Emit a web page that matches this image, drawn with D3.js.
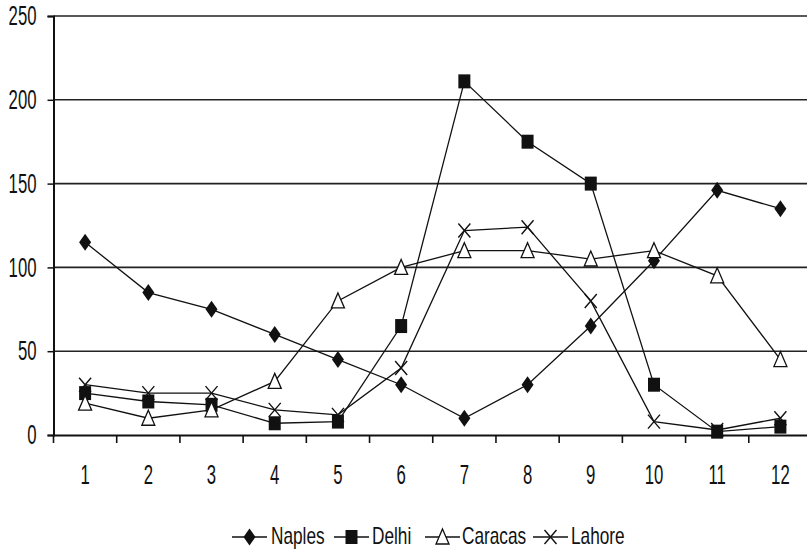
<!DOCTYPE html>
<html>
<head>
<meta charset="utf-8">
<script src="https://cdn.jsdelivr.net/npm/d3@7"></script>
<style>
  html, body { margin: 0; padding: 0; background: #fff; }
  svg { display: block; }
  text { font-family: "Liberation Sans Narrow", "Arial Narrow", "Liberation Sans", Arial, sans-serif; fill: #111; }
</style>
</head>
<body>
<svg id="chart" width="807" height="551"></svg>
<script>
const months = [1, 2, 3, 4, 5, 6, 7, 8, 9, 10, 11, 12];
const naples  = [115, 85, 75, 60, 45, 30, 10, 30, 65, 104, 146, 135];
const delhi   = [25, 20, 18, 7, 8, 65, 211, 175, 150, 30, 2, 5];
const caracas = [19, 10, 15, 32, 80, 100, 110, 110, 105, 110, 95, 45];
const lahore  = [30, 25, 25, 15, 12, 40, 122, 124, 80, 8, 3, 10];
const yTicks  = [0, 50, 100, 150, 200, 250];
const seriesNames = ["Naples", "Delhi", "Caracas", "Lahore"];
const seriesValues = [naples, delhi, caracas, lahore];
const seriesMarkers = ["diamond", "square", "triangle", "cross"];

const svg = d3.select("#chart");
const plotLeft = 53.5, plotRight = 812, plotTop = 16, plotBottom = 435;

const x = d3.scaleBand().domain(months).range([plotLeft, plotRight]).padding(0);
const y = d3.scaleLinear().domain([0, 250]).range([plotBottom, plotTop]);
const cx = d => x(d) + x.bandwidth() / 2;

// Emulate a narrow typeface by horizontally condensing text around its anchor
function narrow(sel, factor) {
  sel.each(function () {
    const t = d3.select(this);
    const tx = +t.attr("x") || 0, ty = +t.attr("y") || 0;
    t.attr("x", 0).attr("y", 0)
      .attr("transform", `translate(${tx},${ty}) scale(${factor},1)`);
  });
}

function markerPath(type) {
  switch (type) {
    case "diamond": return "M0,-8.5L6,0L0,8.5L-6,0Z";
    case "square": return "M-6,-7H6V7H-6Z";
    case "triangle": return "M0,-8L6.5,7H-6.5Z";
    case "cross": return "M-6,-7L6,7M6,-7L-6,7";
  }
}
function drawMarker(g, type, px, py) {
  const p = g.append("path").attr("d", markerPath(type))
    .attr("transform", `translate(${px},${py})`);
  if (type === "triangle") p.attr("fill", "#fff").attr("stroke", "#111").attr("stroke-width", 1.3);
  else if (type === "cross") p.attr("fill", "none").attr("stroke", "#111").attr("stroke-width", 1.4);
  else p.attr("fill", "#111").attr("stroke", "none");
}

// Gridlines
svg.append("g").selectAll("line").data(yTicks.filter(t => t > 0)).join("line")
  .attr("x1", plotLeft).attr("x2", 807)
  .attr("y1", d => y(d)).attr("y2", d => y(d))
  .attr("stroke", "#222").attr("stroke-width", 1.6);

// Y axis
const yAxis = d3.axisLeft(y).tickValues(yTicks).tickSize(6).tickPadding(11);
const gy = svg.append("g").attr("transform", `translate(${plotLeft},0)`).call(yAxis);
gy.select(".domain").attr("stroke", "#111").attr("stroke-width", 2);
gy.selectAll(".tick line").attr("stroke", "#111").attr("stroke-width", 1.5);
gy.selectAll(".tick text").attr("font-size", 27).attr("fill", "#111")
  .attr("font-family", null).call(narrow, 0.62);

// X axis
const xAxis = d3.axisBottom(x).tickSize(0).tickPadding(30);
const gx = svg.append("g").attr("transform", `translate(0,${plotBottom})`).call(xAxis);
gx.select(".domain").attr("stroke", "#111").attr("stroke-width", 2);
gx.selectAll(".tick text").attr("font-size", 27).attr("fill", "#111")
  .attr("font-family", null).call(narrow, 0.62);
svg.append("g").selectAll("line").data(months).join("line")
  .attr("x1", d => x(d)).attr("x2", d => x(d))
  .attr("y1", plotBottom).attr("y2", plotBottom + 8)
  .attr("stroke", "#111").attr("stroke-width", 1.6);

// Series
const line = d3.line().x((d, i) => cx(months[i])).y(d => y(d));
seriesValues.forEach((vals) => {
  svg.append("path").datum(vals).attr("d", line)
    .attr("fill", "none").attr("stroke", "#111").attr("stroke-width", 1.3);
});
seriesValues.forEach((vals, si) => {
  const g = svg.append("g");
  vals.forEach((v, i) => drawMarker(g, seriesMarkers[si], cx(months[i]), y(v)));
});

// Legend
const legendItems = [
  { lx: 232, tx: 271 },
  { lx: 334, tx: 372 },
  { lx: 425, tx: 462 },
  { lx: 533, tx: 571 }
];
const lg = svg.append("g");
seriesNames.forEach((name, i) => {
  const it = legendItems[i];
  const ly = 537;
  lg.append("line").attr("x1", it.lx).attr("x2", it.lx + 35)
    .attr("y1", ly).attr("y2", ly).attr("stroke", "#111").attr("stroke-width", 1.5);
  drawMarker(lg, seriesMarkers[i], it.lx + 17.5, ly);
  lg.append("text").attr("x", it.tx).attr("y", 543.5)
    .attr("font-size", 23).text(name).call(narrow, 0.75);
});
</script>
</body>
</html>
